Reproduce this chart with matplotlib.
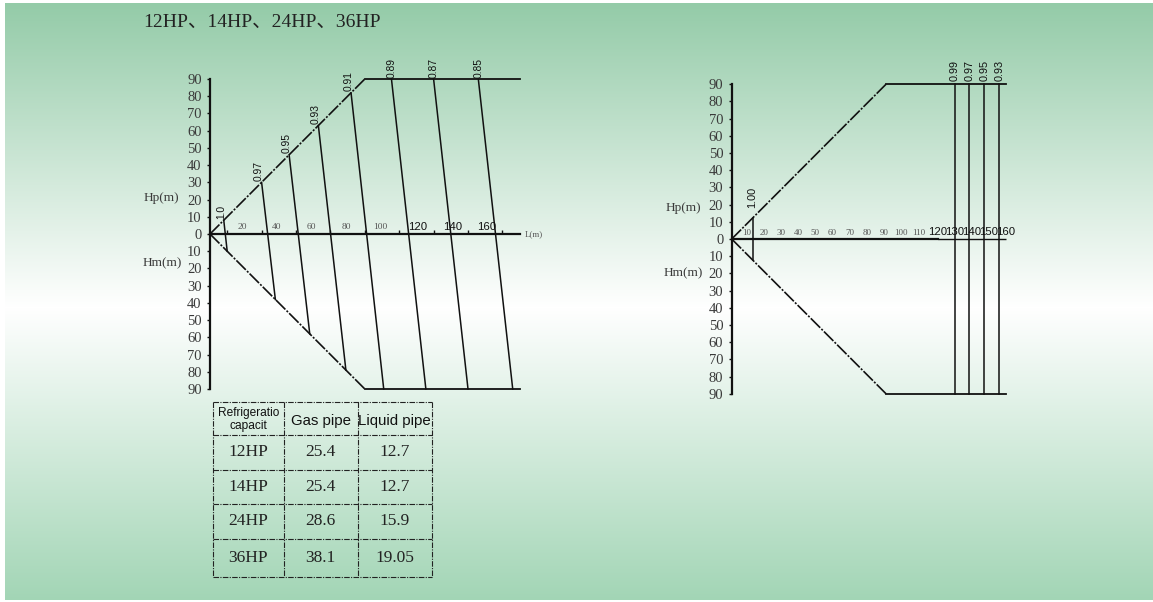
import matplotlib
matplotlib.use('Agg')
import matplotlib.pyplot as plt
import numpy as np

W, H = 1153, 602
SERIF = ['Liberation Serif', 'DejaVu Serif']
SANS = ['Liberation Sans', 'DejaVu Sans']

# --- data ---
# left chart (12HP/14HP): correction factor lines, top end and bottom end (L, H)
left_factor = ['1.0', '0.97', '0.95', '0.93', '0.91', '0.89', '0.87', '0.85']
left_top_L = [8, 30, 46, 63, 82, 105.5, 130, 156]
left_top_H = [8, 30, 46, 63, 82, 90, 90, 90]
left_bot_L = [10, 38, 58, 79, 101, 125.5, 150, 176]
left_bot_H = [-10, -38, -58, -79, -90, -90, -90, -90]
left_edge_L = [0, 90, 180]
left_edge_H = [0, 90, 90]
left_xlabels = [20, 40, 60, 80, 100, 120, 140, 160]
left_xticks = [10, 30, 50, 70, 90, 110, 130, 150, 170]

# right chart (24HP/36HP)
right_factor = ['1.00', '0.99', '0.97', '0.95', '0.93']
right_L = [12.2, 130, 138.5, 147.3, 156]
right_top_H = [12.2, 90, 90, 90, 90]
right_edge_L = [0, 90, 160]
right_edge_H = [0, 90, 90]
right_xlabels = [10, 20, 30, 40, 50, 60, 70, 80, 90, 100, 110, 120, 130, 140, 150, 160]

yticks = np.arange(-90, 91, 10)

# pipe table
headers = ['Refrigeratio\ncapacit', 'Gas pipe', 'Liquid pipe']
capacity = ['12HP', '14HP', '24HP', '36HP']
gas_pipe = ['25.4', '25.4', '28.6', '38.1']
liquid_pipe = ['12.7', '12.7', '15.9', '19.05']

fig = plt.figure(figsize=(W / 100, H / 100), dpi=100)

# background gradient: green - white - green, thin white margin
top_c = np.array([148, 203, 168]) / 255
bot_c = np.array([162, 213, 181]) / 255
white = np.ones(3)
img = np.ones((H, W, 3))
mid = 307
for y in range(3, H - 2):
    if y <= mid:
        t = (y - 3) / (mid - 3)
        c = top_c + (white - top_c) * t
    else:
        t = (y - mid) / (H - 2 - mid)
        c = white + (bot_c - white) * t
    img[y, 5:, :] = c
bg = fig.add_axes([0, 0, 1, 1])
bg.imshow(img, extent=(0, W, H, 0), aspect='auto', interpolation='nearest')
bg.set_xlim(0, W)
bg.set_ylim(H, 0)
bg.set_axis_off()

fig.text(143 / W, 1 - 22 / H, '12HP、14HP、24HP、36HP', family=['Liberation Serif', 'Noto Sans CJK SC'],
         fontsize=14, color='#222', ha='left', va='center')


def place_axes(x0, y0, sx, sy, xlim, ylim):
    left = (x0 + xlim[0] * sx) / W
    width = (xlim[1] - xlim[0]) * sx / W
    bottom = 1 - (y0 - ylim[0] * sy) / H
    height = (ylim[1] - ylim[0]) * sy / H
    ax = fig.add_axes([left, bottom, width, height])
    ax.set_xlim(xlim)
    ax.set_ylim(ylim)
    ax.patch.set_visible(False)
    for s in ['top', 'right']:
        ax.spines[s].set_visible(False)
    ax.spines['left'].set_position(('data', 0))
    ax.spines['left'].set_bounds(-90, 90)
    ax.spines['bottom'].set_position(('data', 0))
    for s in ['left', 'bottom']:
        ax.spines[s].set_linewidth(1.6)
        ax.spines[s].set_color('#111')
    ax.set_yticks(yticks)
    ax.set_yticklabels([str(abs(v)) for v in yticks], family=SERIF, fontsize=10.5, color='#3a3a3a')
    ax.tick_params(axis='y', length=2.5, width=1, pad=3.5, color='#111')
    return ax


dash = (0, (8, 1, 1.2, 1))

# ---------- left chart ----------
axL = place_axes(210, 234, 1.72, 1.722, (-2, 186), (-92, 92))
axL.spines['bottom'].set_bounds(0, 180)
axL.set_xticks(left_xticks)
axL.set_xticklabels([])
axL.tick_params(axis='x', direction='in', length=3, width=1, color='#111')
axL.plot(left_edge_L[:2], left_edge_H[:2], color='#111', lw=1.2, ls=dash)
axL.plot(left_edge_L[1:], left_edge_H[1:], color='#111', lw=1.3)
axL.plot(left_edge_L[:2], [-h for h in left_edge_H[:2]], color='#111', lw=1.2, ls=dash)
axL.plot(left_edge_L[1:], [-h for h in left_edge_H[1:]], color='#111', lw=1.3)
for name, lt, ht, lb, hb in zip(left_factor, left_top_L, left_top_H, left_bot_L, left_bot_H):
    axL.plot([lt, lb], [ht, hb], color='#111', lw=1.1)
    dx = 0 if ht >= 90 else -2
    axL.annotate(name, (lt, ht), xytext=(dx, 1), textcoords='offset points', rotation=90,
                 ha='center', va='bottom', fontsize=7.4, family=SANS, color='#111')
for v in left_xlabels:
    if v <= 100:
        axL.text(v - 1, 1.5, str(v), family=SERIF, fontsize=6.8, color='#555', ha='center', va='bottom')
    else:
        axL.text(v + 1, 1.2, str(v), family=SANS, fontsize=8.2, color='#111', ha='center', va='bottom')
axL.text(183, 0, 'L(m)', family=SERIF, fontsize=6.5, color='#555', ha='left', va='center', clip_on=False)
axL.text(-28, 21, 'Hp(m)', family=SERIF, fontsize=9.5, color='#3a3a3a', ha='center', va='center')
axL.text(-28, -17, 'Hm(m)', family=SERIF, fontsize=9.5, color='#3a3a3a', ha='center', va='center')

# ---------- right chart ----------
axR = place_axes(731.7, 239, 1.715, 1.72, (-2, 165), (-92, 92))
axR.spines['bottom'].set_bounds(0, 120)
axR.set_xticks([])
axR.hlines(0, 120, 160, color='#111', lw=1.0)
axR.plot(right_edge_L[:2], right_edge_H[:2], color='#111', lw=1.2, ls=dash)
axR.plot(right_edge_L[1:], right_edge_H[1:], color='#111', lw=1.3)
axR.plot(right_edge_L[:2], [-h for h in right_edge_H[:2]], color='#111', lw=1.2, ls=dash)
axR.plot(right_edge_L[1:], [-h for h in right_edge_H[1:]], color='#111', lw=1.3)
for name, lv, ht in zip(right_factor, right_L, right_top_H):
    axR.plot([lv, lv], [ht, -ht], color='#111', lw=1.1)
    dy = 2 if ht >= 90 else 7
    axR.annotate(name, (lv, ht), xytext=(0, dy), textcoords='offset points', rotation=90,
                 ha='center', va='bottom', fontsize=7.8, family=SANS, color='#111')
for v in right_xlabels:
    if v <= 110:
        axR.text(v - 1.2, 1.3, str(v), family=SERIF, fontsize=6.5, color='#555', ha='center', va='bottom')
    else:
        axR.text(v, 1.0, str(v), family=SANS, fontsize=8.2, color='#111', ha='center', va='bottom')
axR.text(-28, 18, 'Hp(m)', family=SERIF, fontsize=9.5, color='#3a3a3a', ha='center', va='center')
axR.text(-28, -20, 'Hm(m)', family=SERIF, fontsize=9.5, color='#3a3a3a', ha='center', va='center')

# ---------- pipe table ----------
col_edges = [213, 283.5, 358, 431.5]
row_edges = [402, 435, 470, 504, 538.5, 576.5]
tdash = (0, (5, 1.2, 1, 1.2))
for x in col_edges:
    bg.vlines(x, row_edges[0], row_edges[-1], color='#222', lw=0.8, ls=tdash)
for y in row_edges:
    bg.hlines(y, col_edges[0], col_edges[-1], color='#222', lw=0.8, ls=tdash)
col_mid = [(a + b) / 2 for a, b in zip(col_edges[:-1], col_edges[1:])]
row_mid = [(a + b) / 2 for a, b in zip(row_edges[:-1], row_edges[1:])]
bg.text(col_mid[0], row_mid[0] + 1, headers[0], family=SANS, fontsize=8.6, color='#111',
        ha='center', va='center', linespacing=1.05)
bg.text(col_mid[1], row_mid[0] + 2, headers[1], family=SANS, fontsize=10.8, color='#111', ha='center', va='center')
bg.text(col_mid[2], row_mid[0] + 2, headers[2], family=SANS, fontsize=10.8, color='#111', ha='center', va='center')
for i, (c, g, lq) in enumerate(zip(capacity, gas_pipe, liquid_pipe)):
    y = row_mid[i + 1]
    for x, s in zip(col_mid, [c, g, lq]):
        bg.text(x, y, s, family=SERIF, fontsize=12.5, color='#222', ha='center', va='center')

fig.savefig('out.png', dpi=100)
